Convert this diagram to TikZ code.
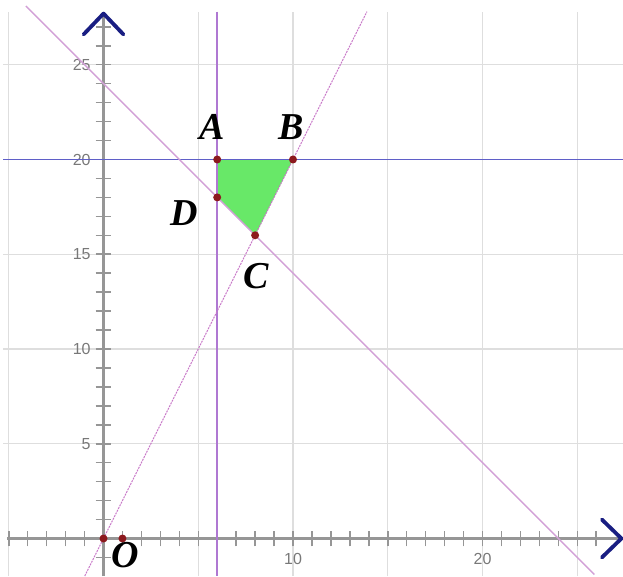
\documentclass[tikz,border=0pt]{standalone}
\usepackage{fontspec}
\setmainfont{Liberation Serif}
\newfontfamily\ticksans{Liberation Sans}
\usetikzlibrary{positioning}

\definecolor{gridgray}{RGB}{222,222,222}
\definecolor{axisgray}{RGB}{150,150,150}
\definecolor{axisblue}{RGB}{25,30,130}
\definecolor{vlinepurple}{RGB}{175,120,210}
\definecolor{hlineblue}{RGB}{95,95,200}
\definecolor{slopepink}{RGB}{200,120,200}
\definecolor{sumpink}{RGB}{210,160,215}
\definecolor{regiongreen}{RGB}{104,232,104}
\definecolor{dotred}{RGB}{140,25,30}

\begin{document}
\begin{tikzpicture}[x=18.95pt, y=18.95pt,
  gridline/.style={draw=gridgray, line width=1.3pt},
  axis/.style={draw=axisgray, line width=2.6pt},
  tickmark/.style={draw=axisgray, line width=1.5pt},
  chevron/.style={draw=axisblue, line width=3.8pt, line cap=round, line join=round},
  bound/.style={line width=1.5pt},
  dot/.style={circle, fill=dotred, inner sep=0pt, minimum size=8pt},
  vlabel/.style={font=\fontsize{38}{38}\selectfont\bfseries\itshape, inner sep=0pt},
  tlabel/.style={font=\ticksans\fontsize{16}{16}\selectfont, text=axisgray!80!black, inner sep=1pt}
]
\useasboundingbox (-5.462,-1.979) rectangle (27.414,28.417);

% grid
\foreach \gx in {-5,5,10,15,20,25}
  \draw[gridline] (\gx,-1.979) -- (\gx,27.8);
\foreach \gy in {5,10,15,20,25}
  \draw[gridline] (-5.3,\gy) -- (27.414,\gy);

% axes with ticks
\coordinate (xstart) at (-5.1,0);
\coordinate (xend) at (27.2,0);
\coordinate (ystart) at (0,-1.979);
\coordinate (yend) at (0,27.7);
\draw[axis] (xstart) -- (xend);
\draw[axis] (ystart) -- (yend);
\foreach \tx in {-5,...,-1,1,2,...,26}
  \draw[tickmark] (\tx,-0.42) -- (\tx,0.42);
\foreach \ty in {-1,1,2,...,27}
  \draw[tickmark] (-0.42,\ty) -- (0.42,\ty);
\draw[chevron] (-1.05,26.6) -- (yend) -- (1.05,26.6);
\draw[chevron] (26.3,1.0) -- (27.33,0) -- (26.3,-1.0);

% tick labels
\foreach \ty in {5,10,15,20,25}
  \node[tlabel, anchor=east] (ylab\ty) at (-0.62,\ty) {\ty};
\node[tlabel, anchor=north] (xlab10) at (10,-0.7) {10};
\node[tlabel, anchor=north] (xlab20) at (20,-0.7) {20};

% feasible region
\coordinate (A) at (6,20);
\coordinate (B) at (10,20);
\coordinate (C) at (8,16);
\coordinate (D) at (6,18);
\fill[regiongreen] (A) -- (B) -- (C) -- (D) -- cycle;

% boundary lines
\coordinate (vtop) at (6,27.8);
\coordinate (vbot) at (6,-1.979);
\coordinate (hleft) at (-5.3,20);
\coordinate (hright) at (27.414,20);
\coordinate (stop) at (13.9,27.8);
\coordinate (sbot) at (-0.99,-1.979);
\coordinate (ctop) at (-4.1,28.1);
\coordinate (cbot) at (25.9,-1.9);
\draw[bound, draw=vlinepurple] (vtop) -- (vbot);
\draw[bound, draw=hlineblue, line width=1.7pt] (hleft) -- (hright);
\draw[bound, draw=sumpink, line width=1.4pt] (ctop) -- (cbot);
\draw[bound, draw=slopepink, line width=1.1pt, dash pattern=on 2pt off 1pt] (sbot) -- (stop);

% points
\node[dot] (dA) at (A) {};
\node[dot] (dB) at (B) {};
\node[dot] (dC) at (C) {};
\node[dot] (dD) at (D) {};
\node[dot] (dO) at (0,0) {};
\node[dot] (dP) at (1,0) {};

% point labels
\node[vlabel] (labA) at (5.73,21.7) {A};
\node[vlabel] (labB) at (9.89,21.7) {B};
\node[vlabel] (labD) at (4.25,17.18) {D};
\node[vlabel] (labC) at (8.05,13.85) {C};
\node[vlabel] (labO) at (1.15,-0.85) {O};
\end{tikzpicture}
\end{document}
